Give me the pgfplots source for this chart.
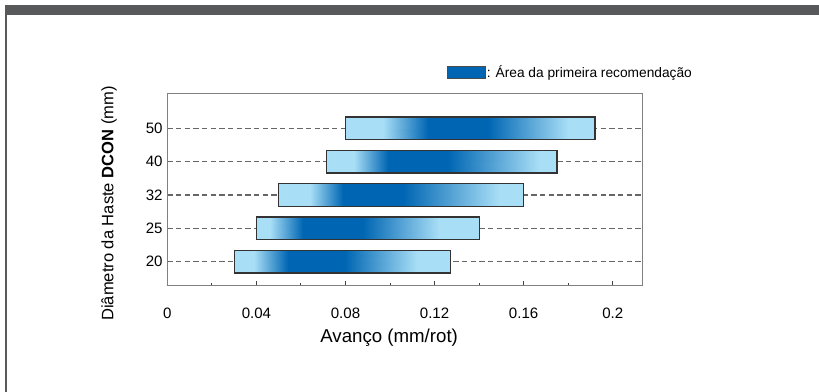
\documentclass[border=0pt]{standalone}
\usepackage{pgfplots}
\pgfplotsset{compat=1.18}
\usepackage{fontspec}
\setmainfont{Liberation Sans}
\definecolor{framegray}{RGB}{88,89,91}
\definecolor{dkblue}{RGB}{0,102,179}
\definecolor{ltblue}{RGB}{168,222,246}
\begin{document}
\begin{tikzpicture}
\path[use as bounding box] (0pt,0pt) rectangle (614.25pt,294pt);
\fill[framegray] (3.75pt,282.75pt) rectangle (614.25pt,290.25pt);
\fill[framegray] (3.75pt,0pt) rectangle (5.25pt,290.25pt);
\begin{axis}[
  at={(125.5pt,79.7pt)}, anchor=south west,
  scale only axis, width=356.6pt, height=144.3pt,
  xmin=0, xmax=0.2135, ymin=0.28, ymax=6.05,
  xtick={0,0.04,0.08,0.12,0.16,0.2},
  xticklabels={0,0.04,0.08,0.12,0.16,0.2},
  minor xtick={0.02,0.06,0.1,0.14,0.18},
  ytick={1,2,3,4,5}, yticklabels={20,25,32,40,50},
  xtick pos=bottom, ytick pos=left, tick align=inside,
  major tick length=3.75pt, minor tick length=2.25pt,
  ytick style={draw=none},
  tick style={black!75, line width=0.8pt},
  axis line style={black!50, line width=0.9pt},
  ymajorgrids,
  major grid style={dash pattern=on 4pt off 2.5pt, black!60, line width=0.9pt},
  xticklabel style={anchor=base, yshift=-24.4pt, font=\fontsize{11.3pt}{13pt}\selectfont},
  yticklabel style={font=\fontsize{11.3pt}{13pt}\selectfont},
  xlabel={Avanço (mm/rot)},
  xlabel style={at={(axis description cs:0.4665,-0.296)}, anchor=base, font=\fontsize{14pt}{16pt}\selectfont},
  ylabel={Diâmetro da Haste \textbf{DCON} (mm)},
  ylabel style={at={(axis description cs:-0.1226,0.427)}, anchor=center, font=\fontsize{12.4pt}{14pt}\selectfont},
  colormap={bars}{rgb255=(168,222,246) rgb255=(0,102,179)},
  point meta min=0, point meta max=1,
  legend style={at={(axis description cs:0.5877,1.109)}, anchor=west, draw=none, fill=none,
    inner sep=0pt, font=\fontsize{10.3pt}{12pt}\selectfont,
    nodes={inner sep=1pt}},
  legend cell align=left,
]
\addlegendimage{legend image code/.code={\draw[fill=dkblue, draw=black!70, line width=0.6pt] (0pt,-4.75pt) rectangle (28.2pt,4.75pt);}}
\addlegendentry{: Área da primeira recomendação}

% bar 20
\addplot[surf, shader=interp, mesh/cols=6, point meta=explicit, forget plot] table[meta=c] {
x y c
0.030 0.66 0
0.039 0.66 0
0.054 0.66 1
0.080 0.66 1
0.112 0.66 0
0.127 0.66 0
0.030 1.34 0
0.039 1.34 0
0.054 1.34 1
0.080 1.34 1
0.112 1.34 0
0.127 1.34 0
};
\addplot[draw=black!80, line width=0.9pt, forget plot] coordinates {(0.030,0.66) (0.127,0.66) (0.127,1.34) (0.030,1.34)} -- cycle;
% bar 25
\addplot[surf, shader=interp, mesh/cols=6, point meta=explicit, forget plot] table[meta=c] {
x y c
0.040 1.66 0
0.046 1.66 0
0.061 1.66 1
0.088 1.66 1
0.122 1.66 0
0.140 1.66 0
0.040 2.34 0
0.046 2.34 0
0.061 2.34 1
0.088 2.34 1
0.122 2.34 0
0.140 2.34 0
};
\addplot[draw=black!80, line width=0.9pt, forget plot] coordinates {(0.040,1.66) (0.140,1.66) (0.140,2.34) (0.040,2.34)} -- cycle;
% bar 32
\addplot[surf, shader=interp, mesh/cols=6, point meta=explicit, forget plot] table[meta=c] {
x y c
0.050 2.66 0
0.064 2.66 0
0.079 2.66 1
0.106 2.66 1
0.149 2.66 0
0.160 2.66 0
0.050 3.34 0
0.064 3.34 0
0.079 3.34 1
0.106 3.34 1
0.149 3.34 0
0.160 3.34 0
};
\addplot[draw=black!80, line width=0.9pt, forget plot] coordinates {(0.050,2.66) (0.160,2.66) (0.160,3.34) (0.050,3.34)} -- cycle;
% bar 40
\addplot[surf, shader=interp, mesh/cols=6, point meta=explicit, forget plot] table[meta=c] {
x y c
0.0714 3.66 0
0.084 3.66 0
0.099 3.66 1
0.126 3.66 1
0.167 3.66 0
0.175 3.66 0
0.0714 4.34 0
0.084 4.34 0
0.099 4.34 1
0.126 4.34 1
0.167 4.34 0
0.175 4.34 0
};
\addplot[draw=black!80, line width=0.9pt, forget plot] coordinates {(0.0714,3.66) (0.175,3.66) (0.175,4.34) (0.0714,4.34)} -- cycle;
% bar 50
\addplot[surf, shader=interp, mesh/cols=6, point meta=explicit, forget plot] table[meta=c] {
x y c
0.080 4.66 0
0.097 4.66 0
0.117 4.66 1
0.144 4.66 1
0.180 4.66 0
0.192 4.66 0
0.080 5.34 0
0.097 5.34 0
0.117 5.34 1
0.144 5.34 1
0.180 5.34 0
0.192 5.34 0
};
\addplot[draw=black!80, line width=0.9pt, forget plot] coordinates {(0.080,4.66) (0.192,4.66) (0.192,5.34) (0.080,5.34)} -- cycle;
\end{axis}
\end{tikzpicture}
\end{document}
